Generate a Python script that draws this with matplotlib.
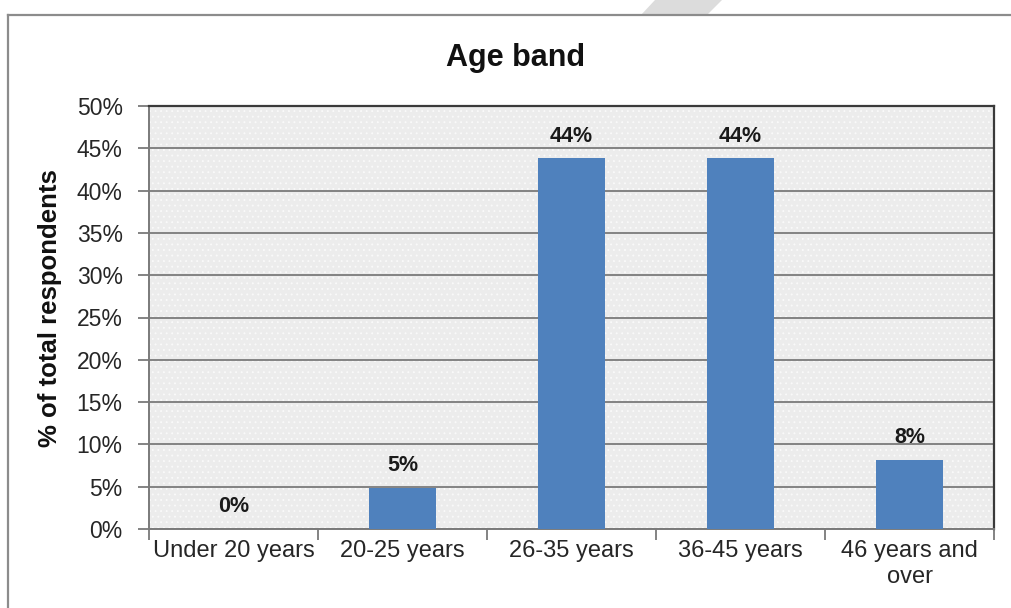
# bar chart of respondents by age band

import matplotlib
matplotlib.use('Agg')
import matplotlib.pyplot as plt
from matplotlib.lines import Line2D
from matplotlib.patches import Polygon

categories = ['Under 20 years', '20-25 years', '26-35 years', '36-45 years', '46 years and\nover']
values = [0.0, 4.9, 43.8, 43.8, 8.2]
y_ticks = [0, 5, 10, 15, 20, 25, 30, 35, 40, 45, 50]

W, H = 1011, 608
plt.rcParams['font.family'] = ['Liberation Sans', 'DejaVu Sans']
plt.rcParams['hatch.linewidth'] = 0.6

fig = plt.figure(figsize=(W / 100, H / 100), dpi=100)


def px(x, y):
    # pixel position -> figure fraction
    return x / W, 1 - y / H


# chart frame and the grey watermark sticking out above it
fig.add_artist(Polygon([px(641, 15), px(707, 15), px(722, 0), px(655, 0)],
                       closed=True, transform=fig.transFigure,
                       facecolor='#dcdcdc', edgecolor='none', zorder=0))
fig.add_artist(Line2D([px(8, 15)[0], 1.0], [px(8, 15)[1]] * 2,
                      transform=fig.transFigure, color='#8c8c8c', lw=1.6))
fig.add_artist(Line2D([px(8, 15)[0]] * 2, [px(8, 15)[1], 0.0],
                      transform=fig.transFigure, color='#8c8c8c', lw=1.6))

left, bottom = px(149, 529)
right, top = px(994, 106)
ax = fig.add_axes([left, bottom, right - left, top - bottom])

ax.patch.set_facecolor('#ececec')
ax.patch.set_hatch('...')
ax.patch.set_edgecolor('#fafafa')
ax.patch.set_linewidth(0)

x = list(range(len(categories)))
bars = ax.bar(x, values, width=0.40, color='#4f81bd', zorder=3)

for xi, v in zip(x, values):
    ax.annotate(f'{v:.0f}%', (xi, v), xytext=(0, 12), textcoords='offset points',
                ha='center', va='baseline', fontsize=15.5, fontweight='bold',
                color='#1a1a1a', zorder=4)

ax.set_xlim(-0.5, len(categories) - 0.5)
ax.set_ylim(0, 50)
ax.set_yticks(y_ticks)
ax.set_yticklabels([f'{t}%' for t in y_ticks])
ax.yaxis.grid(True, color='#7a7a7a', lw=1.3, zorder=1)
ax.set_axisbelow(True)

# ticks on the category boundaries, labels in the middle
ax.set_xticks([i - 0.5 for i in range(len(categories) + 1)])
ax.set_xticklabels([])
ax.set_xticks(x, minor=True)
ax.set_xticklabels(categories, minor=True, linespacing=1.2)
ax.tick_params(axis='x', which='minor', length=0, pad=8, labelsize=17, labelcolor='#262626')
ax.tick_params(axis='x', which='major', length=8, width=1.3, color='#7a7a7a', direction='out')
ax.tick_params(axis='y', length=8, width=1.3, color='#7a7a7a', direction='out',
               pad=11, labelsize=16.5, labelcolor='#262626')

for side in ['left', 'bottom']:
    ax.spines[side].set_color('#7a7a7a')
    ax.spines[side].set_linewidth(1.4)
for side in ['top', 'right']:
    ax.spines[side].set_color('#3a3a3a')
    ax.spines[side].set_linewidth(1.6)

fig.text(*px(516, 66), 'Age band', ha='center', va='baseline',
         fontsize=22, fontweight='bold', color='#111111')
fig.text(*px(50, 308), '% of total respondents', ha='center', va='center',
         rotation=90, fontsize=18.5, fontweight='bold', color='#111111')

fig.savefig('out.png', dpi=100, facecolor='white')
